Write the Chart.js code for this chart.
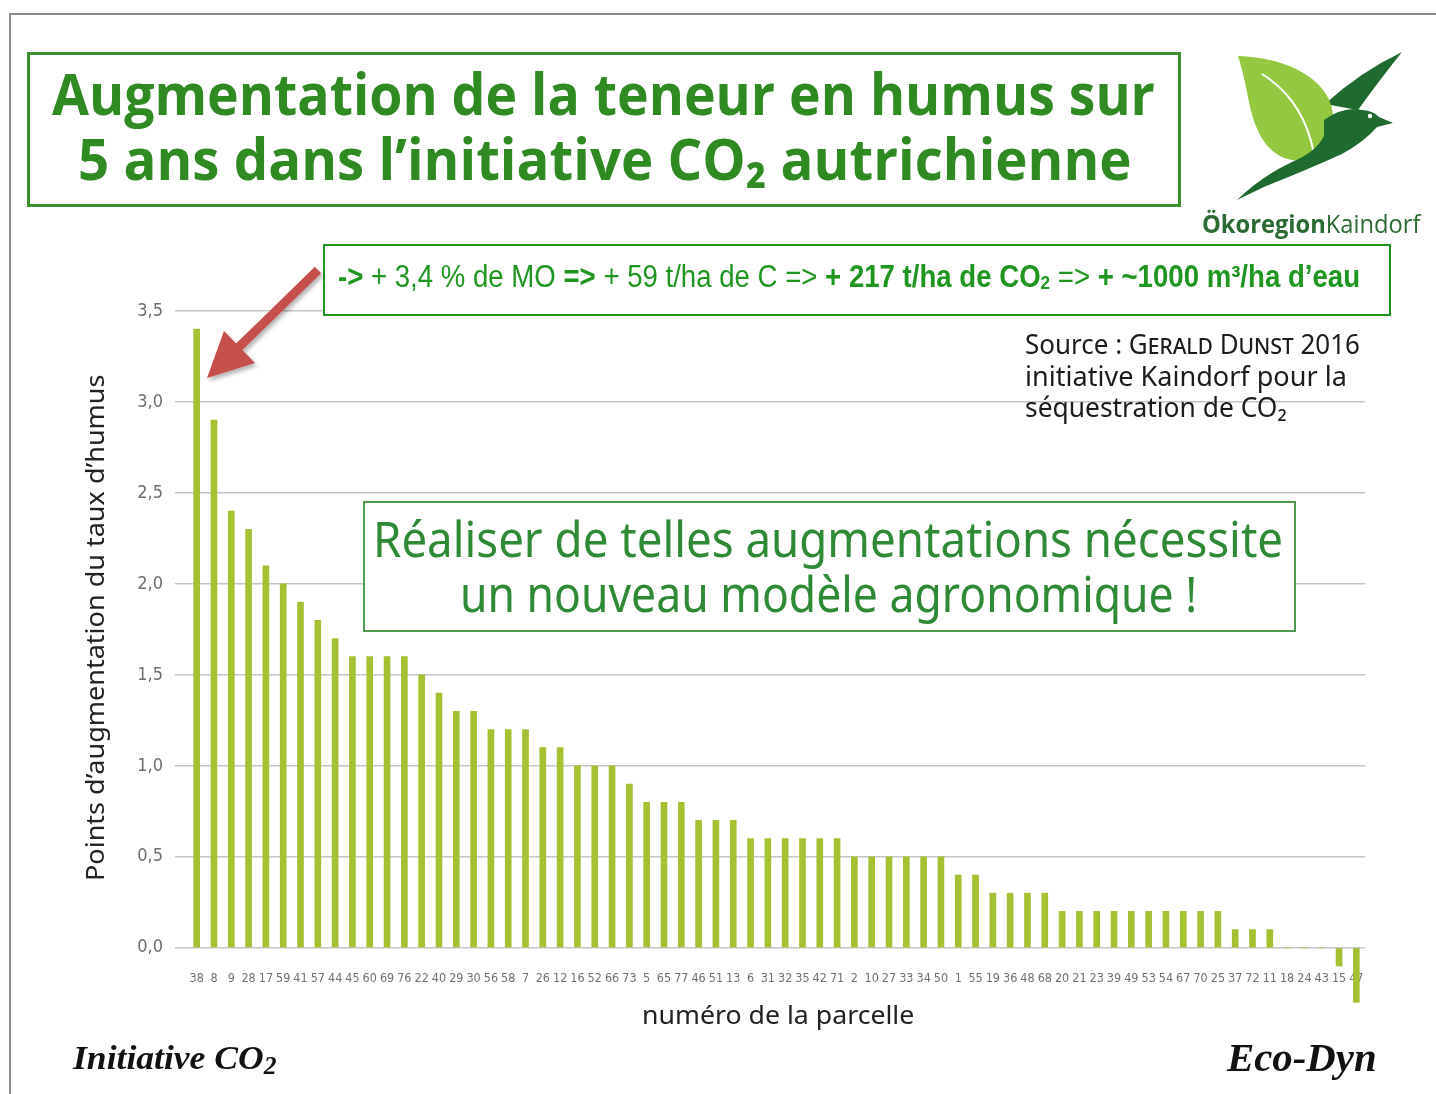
<!DOCTYPE html>
<html lang="fr">
<head>
<meta charset="utf-8">
<title>Augmentation de la teneur en humus</title>
<script src="https://cdn.jsdelivr.net/npm/chart.js@4.4.1/dist/chart.umd.min.js"></script>
<style>
  html, body { margin: 0; padding: 0; background: #fff; }
  #page { position: relative; width: 1436px; height: 1094px; overflow: hidden; background: #fff; }
  #chart { position: absolute; left: 0; top: 0; }
  .frame { position: absolute; left: 9px; top: 13px; right: -10px; bottom: -10px;
           border-top: 2px solid #8c8c8c; border-left: 2px solid #8c8c8c; }
  .box { position: absolute; box-sizing: border-box; background: #fff; }
  .txt { position: absolute; white-space: nowrap; line-height: 1; transform-origin: 0 0; }
  .title { font-family: "Open Sans", "Noto Sans", sans-serif; font-weight: 700; font-size: 57px; color: #2f8a22; }
  .info { font-family: "Liberation Sans Narrow", "Liberation Sans", Arial, sans-serif; font-size: 31px; color: #1f961f; }
  .info b { font-weight: 700; }
  .info .sub { font-size: 0.62em; vertical-align: -0.12em; }
  .src { font-family: "Noto Sans", "Open Sans", sans-serif; font-size: 28px; color: #1c1c1c; }
  .msg { font-family: "Noto Sans", "Open Sans", sans-serif; font-size: 50px; color: #2f8a36; }
  .axis { font-family: "Noto Sans", "Open Sans", sans-serif; font-size: 26px; color: #222; }
  .foot { font-family: "Liberation Serif", "Times New Roman", serif; font-style: italic; font-weight: 700; color: #111; }
  .logo { font-family: "Open Sans", "Noto Sans", sans-serif; font-size: 25px; color: #2b6b33; }
  svg.over { position: absolute; left: 0; top: 0; pointer-events: none; }
</style>
</head>
<body>
<div id="page">
  <canvas id="chart" width="1436" height="1094"></canvas>
  <div class="frame"></div>

  <!-- title block -->
  <div class="box" style="left:27px;top:52px;width:1154px;height:155px;border:3px solid #3c8f2c;"></div>
  <div class="txt title" data-w="1103" style="left:52px;top:65px;">Augmentation de la teneur en humus sur</div>
  <div class="txt title" data-w="1054" style="left:78px;top:130px;">5 ans dans l’initiative CO₂ autrichienne</div>

  <!-- key figures -->
  <div class="box" style="left:323px;top:244px;width:1068px;height:72px;border:2px solid #1f961f;"></div>
  <div class="txt info" data-w="1022" style="left:338px;top:261px;"><b>-&gt;</b> + 3,4 % de MO <b>=&gt;</b> + 59 t/ha de C =&gt; <b>+ 217 t/ha de CO<span class="sub">2</span></b> =&gt; <b>+ ~1000 m³/ha d’eau</b></div>

  <!-- source -->
  <div class="txt src" data-w="335" style="left:1025px;top:329px;">Source : <span style="font-variant:small-caps">Gerald Dunst</span> 2016</div>
  <div class="txt src" data-w="322" style="left:1025px;top:361px;">initiative Kaindorf pour la</div>
  <div class="txt src" data-w="262" style="left:1025px;top:392px;">séquestration de CO₂</div>

  <!-- message -->
  <div class="box" style="left:363px;top:501px;width:933px;height:131px;border:2px solid #4f9a4f;"></div>
  <div class="txt msg" data-w="910" style="left:373px;top:513px;">Réaliser de telles augmentations nécessite</div>
  <div class="txt msg" data-w="737" style="left:460px;top:568px;">un nouveau modèle agronomique !</div>

  <!-- axis titles -->
  <div style="position:absolute;left:0;top:0;transform:translate(104px,628px) rotate(-90deg);transform-origin:0 0;">
    <div class="txt axis" data-w="507" style="left:-253.5px;top:-23px;">Points d’augmentation du taux d’humus</div>
  </div>
  <div class="txt axis" data-w="272" style="left:642px;top:1001px;">numéro de la parcelle</div>

  <!-- footer -->
  <div class="txt foot" data-w="204" style="left:73px;top:1041px;font-size:34px;">Initiative CO<span style="font-size:0.72em;vertical-align:-0.22em">2</span></div>
  <div class="txt foot" data-w="150" style="left:1227px;top:1038px;font-size:40px;">Eco-Dyn</div>

  <!-- logo text -->
  <div class="txt logo" data-w="218" style="left:1202px;top:211px;"><b>Ökoregion</b>Kaindorf</div>

  <svg class="over" width="1436" height="1094" viewBox="0 0 1436 1094">
    <defs>
      <filter id="shadow" x="-20%" y="-20%" width="140%" height="140%">
        <feDropShadow dx="2" dy="3" stdDeviation="2" flood-color="#000" flood-opacity="0.3"/>
      </filter>
    </defs>
    <!-- logo: leaf and bird -->
    <path d="M1325,104 Q1360,72 1402,52 Q1378,82 1358,110 Z" fill="#1f6a2f"/>
    <path d="M1238,56 C1296,58 1336,86 1333,122 C1331,150 1312,162 1292,160 C1266,156 1254,128 1249,102 C1245,82 1242,68 1238,56 Z" fill="#93c840"/>
    <path d="M1262,74 Q1304,100 1314,154" fill="none" stroke="#fff" stroke-width="2"/>
    <path d="M1324,120 Q1344,106 1362,110 Q1374,111 1379,117 L1393,123 L1377,127 Q1364,142 1342,154 Q1302,172 1266,186 L1237,200 Q1262,176 1292,162 Q1316,152 1324,136 Z" fill="#1f6a2f"/>
    <circle cx="1370" cy="116" r="2.2" fill="#fff"/>
    <!-- red arrow -->
    <g filter="url(#shadow)" fill="#c4504c">
      <line x1="318" y1="270" x2="238" y2="348" stroke="#c4504c" stroke-width="9"/>
      <polygon points="207,378 255,363 224,331"/>
    </g>
  </svg>
</div>

<script>
// parcel numbers, sorted by humus gain
const parcelles = ['38','8','9','28','17','59','41','57','44','45','60','69','76','22','40','29','30',
  '56','58','7','26','12','16','52','66','73','5','65','77','46','51','13','6','31','32','35','42','71',
  '2','10','27','33','34','50','1','55','19','36','48','68','20','21','23','39','49','53','54','67','70',
  '25','37','72','11','18','24','43','15','47'];

// gain in points of humus content over 5 years
const hausse = [3.4,2.9,2.4,2.3,2.1,2.0,1.9,1.8,1.7,1.6,1.6,1.6,1.6,1.5,1.4,1.3,1.3,
  1.2,1.2,1.2,1.1,1.1,1.0,1.0,1.0,0.9,0.8,0.8,0.8,0.7,0.7,0.7,0.6,0.6,0.6,0.6,0.6,0.6,
  0.5,0.5,0.5,0.5,0.5,0.5,0.4,0.4,0.3,0.3,0.3,0.3,0.2,0.2,0.2,0.2,0.2,0.2,0.2,0.2,0.2,
  0.2,0.1,0.1,0.1,0,0,0,-0.1,-0.3];

const yTicks = [0, 0.5, 1, 1.5, 2, 2.5, 3, 3.5];
const yMin = -0.32;
const yMax = 3.5;

// squeeze each text line to its slot width
document.querySelectorAll('[data-w]').forEach(el => {
  const w = el.offsetWidth;
  if (w > 0) el.style.transform = 'scaleX(' + (+el.dataset.w / w).toFixed(4) + ')';
});

const tickFont = { family: '"Liberation Sans Narrow", "DejaVu Sans Condensed", sans-serif' };

new Chart(document.getElementById('chart').getContext('2d'), {
  type: 'bar',
  data: {
    labels: parcelles,
    datasets: [{
      data: hausse,
      backgroundColor: '#a3c131',
      borderWidth: 0,
      barThickness: 6
    }]
  },
  options: {
    responsive: false,
    animation: false,
    devicePixelRatio: 1,
    layout: { padding: { left: 83, right: 71, top: 311, bottom: 88 } },
    plugins: { legend: { display: false }, tooltip: { enabled: false } },
    scales: {
      x: {
        position: { y: 0 },
        grid: { display: false, drawTicks: false },
        border: { display: false },
        ticks: {
          autoSkip: false, maxRotation: 0, padding: 23,
          color: '#707070', font: { ...tickFont, size: 12.5 }
        },
        afterFit: s => { s.height = 0; }
      },
      y: {
        min: yMin,
        max: yMax,
        grid: { color: '#c6c6c6', lineWidth: 1.5, tickLength: 13 },
        border: { display: false },
        afterBuildTicks: s => { s.ticks = yTicks.map(v => ({ value: v })); },
        afterFit: s => { s.width = 105; },
        ticks: {
          padding: 12,
          color: '#6e6e6e',
          font: { ...tickFont, size: 18 },
          callback: v => Number(v).toFixed(1).replace('.', ',')
        }
      }
    }
  }
});
</script>
</body>
</html>
